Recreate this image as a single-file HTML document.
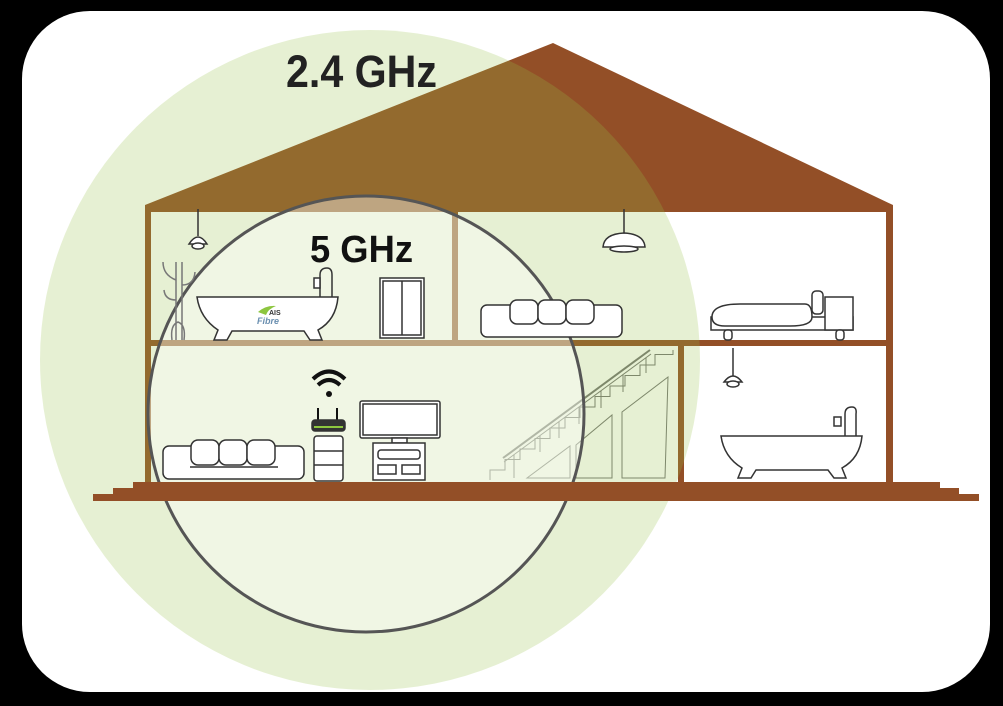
<!DOCTYPE html>
<html><head><meta charset="utf-8"><style>
html,body{margin:0;padding:0;background:#000;}
svg{display:block;}
</style></head><body>
<svg width="1003" height="706" viewBox="0 0 1003 706" xmlns="http://www.w3.org/2000/svg">
<rect x="0" y="0" width="1003" height="706" fill="#000"/>
<rect x="22" y="11" width="968" height="681" rx="68" fill="#fff"/>
<!-- house -->
<polygon points="553,43 893,205 893,212 145,212 145,205" fill="#934f27"/>
<rect x="145" y="205" width="6" height="285" fill="#934f27"/>
<rect x="886" y="205" width="7" height="285" fill="#934f27"/>
<rect x="145" y="340" width="748" height="6" fill="#934f27"/>
<rect x="452" y="209" width="6" height="133" fill="#934f27"/>
<rect x="678" y="343" width="6" height="142" fill="#934f27"/>
<!-- stairs -->
<g fill="none" stroke="#777" stroke-width="1">
<polyline points="490,480 490,470 505,470 505,459.5 520,459.5 520,449 535,449 535,438.5 550,438.5 550,428 565,428 565,417.5 580,417.5 580,407 595,407 595,396.5 610,396.5 610,386 625,386 625,375.5 640,375.5 640,365 655,365 655,354.5 673,354.5 673,350"/>
<line x1="503" y1="458" x2="650" y2="350" stroke-width="2"/>
<line x1="504" y1="462" x2="651" y2="354"/>
<line x1="514" y1="455" x2="514" y2="478"/><line x1="540" y1="436" x2="540" y2="452"/><line x1="559" y1="422" x2="559" y2="438"/><line x1="579" y1="407" x2="579" y2="424"/><line x1="601" y1="391" x2="601" y2="408"/><line x1="623" y1="375" x2="623" y2="392"/><line x1="646" y1="358" x2="646" y2="373"/>
<polygon points="527,478 570,446 570,478"/>
<polygon points="576,478 576,445 612,415 612,478"/>
<polygon points="622,478 622,412 668,377 665,478"/>
</g>
<!-- big circle -->
<circle cx="370" cy="360" r="330" fill="rgba(150,192,70,0.24)"/>
<!-- small circle -->
<circle cx="366" cy="414" r="218" fill="rgba(255,255,255,0.4)" stroke="#555" stroke-width="3"/>
<!-- ground on top -->
<rect x="133" y="482" width="807" height="8" fill="#934f27"/>
<rect x="113" y="488" width="846" height="7" fill="#934f27"/>
<rect x="93" y="494" width="886" height="7" fill="#934f27"/>
<g fill="#fff" stroke="#333" stroke-width="1.5">
<!-- top-left lamp -->
<line x1="198" y1="209" x2="198" y2="236"/>
<path d="M189,244 Q198,230 207,244 Z"/><ellipse cx="198" cy="246" rx="6" ry="3"/>
<!-- coat rack -->
<path d="M176,340 L176,262 M182,262 L182,340 M176,300 Q165,300 164,290 M182,285 Q194,285 195,272 M176,280 Q163,275 163,262 M172,340 Q170,325 178,322 Q186,325 184,340" fill="none" stroke="#777"/>
<!-- bathtub TL -->
<path d="M320,297 L320,275 Q320,268 327,268 Q332,268 332,275 L332,297" fill="none"/>
<rect x="314" y="278" width="6" height="10"/>
<path d="M197,297 L338,297 Q336,320 318,330 L322,340 L310,340 L304,331 L232,331 L227,340 L214,340 L218,330 Q200,318 197,297 Z"/>
<!-- wardrobe -->
<rect x="380" y="278" width="44" height="60"/><line x1="402" y1="281" x2="402" y2="335"/>
<rect x="383" y="281" width="38" height="54" fill="none"/>
<!-- wifi -->
<path d="M313,379 Q329,364 345,379" fill="none" stroke="#111" stroke-width="4"/>
<path d="M318,385 Q329,375 340,385" fill="none" stroke="#111" stroke-width="4"/>
<circle cx="329" cy="394" r="3" fill="#111" stroke="none"/>
<!-- router -->
<line x1="318" y1="408" x2="318" y2="421" stroke="#111" stroke-width="2"/>
<line x1="337" y1="408" x2="337" y2="421" stroke="#111" stroke-width="2"/>
<rect x="312" y="420" width="33" height="11" rx="3" fill="#333"/>
<rect x="314" y="426" width="29" height="2" fill="#8dc63f" stroke="none"/>
<!-- nightstand -->
<rect x="314" y="436" width="29" height="45" rx="3"/>
<line x1="314" y1="451" x2="343" y2="451"/><line x1="314" y1="465" x2="343" y2="465"/>
<!-- TV -->
<rect x="360" y="401" width="80" height="37" rx="2"/><rect x="363" y="404" width="74" height="31"/>
<rect x="392" y="438" width="15" height="5"/>
<rect x="373" y="443" width="52" height="37"/>
<rect x="378" y="450" width="42" height="9" rx="3"/>
<rect x="378" y="465" width="18" height="9"/><rect x="402" y="465" width="18" height="9"/>
<!-- sofa BL -->
<rect x="163" y="446" width="141" height="33" rx="6"/>
<rect x="191" y="440" width="28" height="25" rx="7"/><rect x="219" y="440" width="28" height="25" rx="7"/><rect x="247" y="440" width="28" height="25" rx="7"/>
<line x1="190" y1="467" x2="278" y2="467"/>
<!-- top middle lamp -->
<line x1="624" y1="209" x2="624" y2="233"/>
<path d="M603,247 Q604,234 624,233 Q644,234 645,247 Z"/><ellipse cx="624" cy="249" rx="14" ry="3"/>
<!-- sofa top middle -->
<rect x="481" y="305" width="141" height="32" rx="6"/>
<rect x="510" y="300" width="28" height="24" rx="7"/><rect x="538" y="300" width="28" height="24" rx="7"/><rect x="566" y="300" width="28" height="24" rx="7"/>
<!-- bed -->
<rect x="711" y="317" width="142" height="13"/>
<rect x="825" y="297" width="28" height="33"/>
<rect x="812" y="291" width="11" height="23" rx="4"/>
<path d="M712,317 Q712,304 740,304 L805,304 Q812,304 812,317 Q812,326 790,326 L725,326 Q712,326 712,317 Z"/>
<rect x="724" y="330" width="8" height="10" rx="3"/><rect x="836" y="330" width="8" height="10" rx="3"/>
<!-- lamp BR -->
<line x1="733" y1="348" x2="733" y2="376"/>
<path d="M724,382 Q733,370 742,382 Z"/><ellipse cx="733" cy="384" rx="6" ry="3"/>
<!-- bathtub BR -->
<path d="M845,436 L845,414 Q845,407 852,407 Q857,407 856,414 L856,436" fill="none"/>
<rect x="834" y="417" width="7" height="9"/>
<path d="M721,436 L862,436 Q860,458 842,468 L846,478 L834,478 L828,470 L756,470 L751,478 L738,478 L742,468 Q724,457 721,436 Z"/>
</g>
<!-- logo -->
<path d="M258,312 Q266,305 276,306 Q268,309 266,315 Z" fill="#8dc63f"/>
<text x="269" y="315" font-family="Liberation Sans, sans-serif" font-size="7" font-weight="bold" fill="#333">AIS</text>
<text x="257" y="324" font-family="Liberation Sans, sans-serif" font-size="9" font-style="italic" font-weight="bold" fill="#6a8fb0">Fibre</text>
<text x="286" y="87" font-family="Liberation Sans, sans-serif" font-size="45" font-weight="bold" fill="#222" textLength="151" lengthAdjust="spacingAndGlyphs">2.4 GHz</text>
<text x="310" y="262" font-family="Liberation Sans, sans-serif" font-size="38" font-weight="bold" fill="#111" textLength="103" lengthAdjust="spacingAndGlyphs">5 GHz</text>
</svg>
</body></html>
